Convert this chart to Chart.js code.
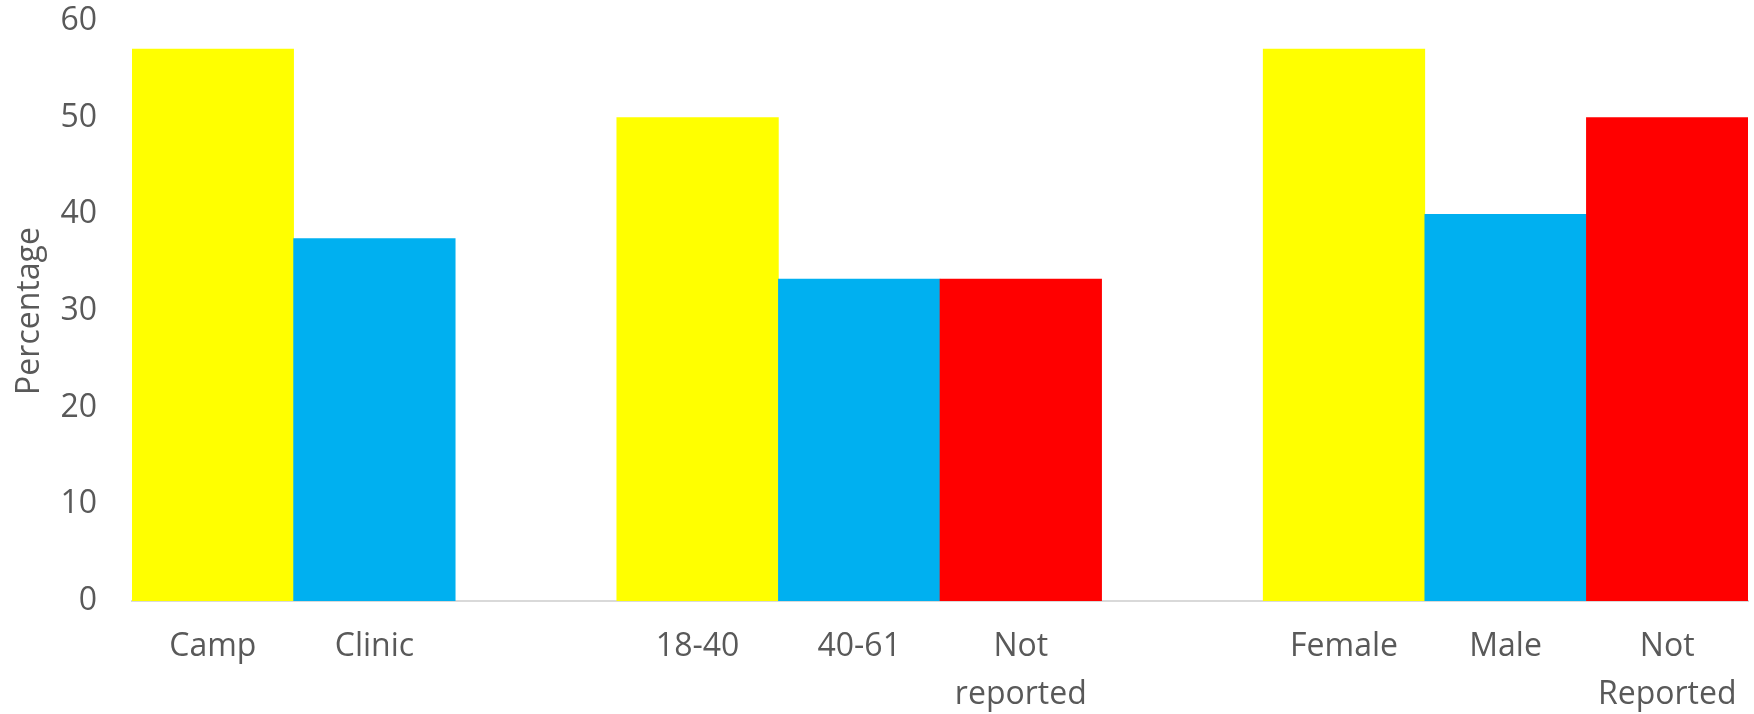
<!DOCTYPE html>
<html>
<head>
<meta charset="utf-8">
<script src="https://cdn.jsdelivr.net/npm/chart.js@4/dist/chart.umd.min.js"></script>
<style>
  html, body { margin: 0; padding: 0; background: #ffffff; }
  #wrap { width: 1754px; height: 714px; }
</style>
</head>
<body>
<div id="wrap"><canvas id="c" width="1754" height="714"></canvas></div>
<script>
const categories = ['Camp', 'Clinic', '', '18-40', '40-61', ['Not', 'reported'], '', 'Female', 'Male', ['Not', 'Reported']];
const percentages = [57.1, 37.5, null, 50, 33.3, 33.3, null, 57.1, 40, 50];
const barColors = ['#FFFF00', '#00B0F0', '#FFFFFF', '#FFFF00', '#00B0F0', '#FF0000', '#FFFFFF', '#FFFF00', '#00B0F0', '#FF0000'];
const yTicks = [0, 10, 20, 30, 40, 50, 60];
const yTitle = 'Percentage';

const textColor = '#595959';
const fontFamily = '"Open Sans", "Liberation Sans", sans-serif';

new Chart(document.getElementById('c'), {
  type: 'bar',
  data: {
    labels: categories,
    datasets: [{
      data: percentages,
      backgroundColor: barColors,
      borderWidth: 0,
      barPercentage: 1.0,
      categoryPercentage: 1.0
    }]
  },
  options: {
    responsive: false,
    animation: false,
    devicePixelRatio: 1,
    layout: { padding: { top: 0, right: 6, bottom: 0, left: 0 } },
    plugins: {
      legend: { display: false },
      tooltip: { enabled: false }
    },
    scales: {
      x: {
        afterFit: (scale) => {
          scale.height = 113;
          scale.paddingLeft = 0;
          scale.paddingRight = 0;
        },
        grid: { display: false, drawTicks: false },
        border: { display: true, color: '#d9d9d9', width: 2 },
        ticks: {
          color: textColor,
          font: { family: fontFamily, size: 32, lineHeight: 1.5 },
          padding: 22,
          maxRotation: 0,
          autoSkip: false
        }
      },
      y: {
        min: 0,
        max: 60,
        afterBuildTicks: (scale) => { scale.ticks = yTicks.map(v => ({ value: v })); },
        afterFit: (scale) => {
          scale.width = 132;
          scale.paddingTop = 21;
          scale.paddingBottom = 0;
        },
        grid: { display: false, drawTicks: false },
        border: { display: false },
        ticks: {
          color: textColor,
          font: { family: fontFamily, size: 32 },
          padding: 35
        },
        title: {
          display: true,
          text: yTitle,
          color: textColor,
          font: { family: fontFamily, size: 32 },
          padding: { top: 11, bottom: 0 }
        }
      }
    }
  }
});
</script>
</body>
</html>
